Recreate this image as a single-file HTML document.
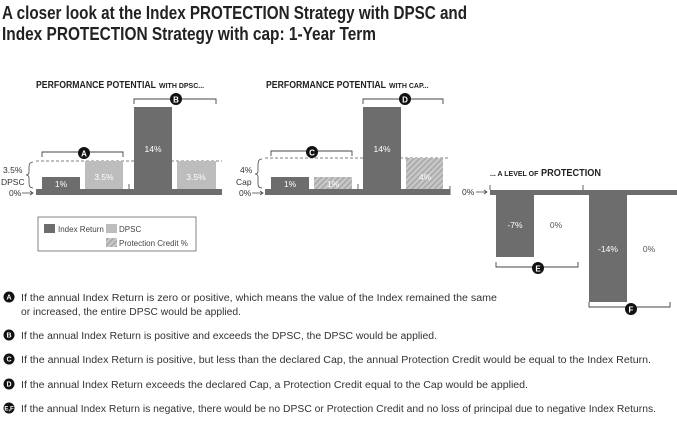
<!DOCTYPE html>
<html><head><meta charset="utf-8"><style>
html,body{margin:0;padding:0;background:#fff;}
svg{display:block;font-family:"Liberation Sans",sans-serif;}
</style></head><body>
<svg width="677" height="421" viewBox="0 0 677 421" xmlns="http://www.w3.org/2000/svg">
<defs>
<pattern id="h" width="4" height="4" patternUnits="userSpaceOnUse" patternTransform="rotate(45)">
<rect width="4" height="4" fill="#c8c8c8"/><rect width="1.6" height="4" fill="#a8a8a8"/>
</pattern>
</defs>
<g font-weight="bold" font-size="18" fill="#222">
<text x="2" y="19" textLength="465" lengthAdjust="spacingAndGlyphs">A closer look at the Index PROTECTION Strategy with DPSC and</text>
<text x="2" y="40" textLength="374" lengthAdjust="spacingAndGlyphs">Index PROTECTION Strategy with cap: 1-Year Term</text>
</g>

<!-- Chart 1 -->
<text x="36" y="88" font-size="10" font-weight="bold" fill="#222" textLength="120" lengthAdjust="spacingAndGlyphs">PERFORMANCE POTENTIAL</text>
<text x="159" y="88" font-size="7" font-weight="bold" fill="#222">WITH DPSC...</text>
<line x1="36" y1="161" x2="222" y2="161" stroke="#555" stroke-dasharray="3,2" stroke-width="0.8"/>
<rect x="42" y="177" width="38" height="13" fill="#6d6d6d"/>
<rect x="85" y="161" width="38" height="29" fill="#bdbdbd"/>
<rect x="134" y="107" width="38" height="83" fill="#6d6d6d"/>
<rect x="177" y="161" width="39" height="29" fill="#bdbdbd"/>
<rect x="36" y="189" width="186" height="6" fill="#6d6d6d"/>
<line x1="129" y1="184" x2="129" y2="189" stroke="#666"/>
<g font-size="8.5" fill="#fff" text-anchor="middle">
<text x="61" y="187">1%</text><text x="104" y="180">3.5%</text><text x="153" y="152">14%</text><text x="196" y="180">3.5%</text>
</g>
<path d="M42 157V152H123V157M134 104V99H216V104" fill="none" stroke="#444" stroke-width="0.9"/>
<circle cx="84" cy="153" r="6" fill="#111"/><text x="84" y="156.5" font-size="8" font-weight="bold" fill="#fff" text-anchor="middle">A</text>
<circle cx="176" cy="99" r="6" fill="#111"/><text x="176" y="102.5" font-size="8" font-weight="bold" fill="#fff" text-anchor="middle">B</text>
<g font-size="8.5" fill="#333">
<text x="3" y="173">3.5%</text><text x="1" y="185">DPSC</text><text x="9" y="196">0%</text>
</g>
<path d="M33 162Q29 162 29 167V172Q29 175 26 175Q29 175 29 178V183Q29 188 33 188" fill="none" stroke="#444" stroke-width="0.8"/>
<path d="M22 193H33M30 191L33 193L30 195" fill="none" stroke="#444" stroke-width="0.8"/>
<rect x="38" y="217" width="158" height="34" fill="none" stroke="#666" stroke-width="0.8"/>
<rect x="44" y="224" width="11" height="9" fill="#6d6d6d"/>
<rect x="106" y="224" width="11" height="9" fill="#bdbdbd"/>
<rect x="106" y="238" width="11" height="9" fill="url(#h)"/>
<g font-size="8" fill="#444">
<text x="58" y="232">Index Return</text><text x="119" y="232">DPSC</text><text x="119" y="246">Protection Credit %</text>
</g>

<!-- Chart 2 -->
<text x="266" y="88" font-size="10" font-weight="bold" fill="#222" textLength="120" lengthAdjust="spacingAndGlyphs">PERFORMANCE POTENTIAL</text>
<text x="389" y="88" font-size="7" font-weight="bold" fill="#222">WITH CAP...</text>
<line x1="265" y1="158" x2="450" y2="158" stroke="#555" stroke-dasharray="3,2" stroke-width="0.8"/>
<rect x="271" y="177" width="38" height="13" fill="#6d6d6d"/>
<rect x="314" y="177" width="38" height="13" fill="url(#h)"/>
<rect x="363" y="107" width="38" height="83" fill="#6d6d6d"/>
<rect x="406" y="158" width="37" height="32" fill="url(#h)"/>
<rect x="265" y="189" width="185" height="6" fill="#6d6d6d"/>
<line x1="358" y1="184" x2="358" y2="189" stroke="#666"/>
<g font-size="8.5" fill="#fff" text-anchor="middle">
<text x="290" y="187">1%</text><text x="333" y="187">1%</text><text x="382" y="152">14%</text><text x="425" y="180">4%</text>
</g>
<path d="M271 156V151H352V156M363 104V99H443V104" fill="none" stroke="#444" stroke-width="0.9"/>
<circle cx="312" cy="152" r="6" fill="#111"/><text x="312" y="155.5" font-size="8" font-weight="bold" fill="#fff" text-anchor="middle">C</text>
<circle cx="405" cy="99" r="6" fill="#111"/><text x="405" y="102.5" font-size="8" font-weight="bold" fill="#fff" text-anchor="middle">D</text>
<g font-size="8.5" fill="#333">
<text x="240" y="173">4%</text><text x="236" y="185">Cap</text><text x="239" y="196">0%</text>
</g>
<path d="M262 159Q258 159 258 164V171Q258 174 255 174Q258 174 258 177V184Q258 188 262 188" fill="none" stroke="#444" stroke-width="0.8"/>
<path d="M252 193H263M260 191L263 193L260 195" fill="none" stroke="#444" stroke-width="0.8"/>

<!-- Chart 3 -->
<text x="490" y="176" font-size="7" font-weight="bold" fill="#222">... A LEVEL OF</text>
<text x="541" y="176" font-size="10" font-weight="bold" fill="#222" textLength="60" lengthAdjust="spacingAndGlyphs">PROTECTION</text>
<rect x="490" y="190" width="187" height="5" fill="#6d6d6d"/>
<line x1="490" y1="185" x2="490" y2="190" stroke="#666"/>
<line x1="583" y1="185" x2="583" y2="190" stroke="#666"/>
<rect x="496" y="194" width="38" height="63" fill="#6d6d6d"/>
<rect x="589" y="194" width="38" height="108" fill="#6d6d6d"/>
<g font-size="8.5" text-anchor="middle">
<text x="515" y="228" fill="#fff">-7%</text><text x="556" y="228" fill="#555">0%</text>
<text x="608" y="252" fill="#fff">-14%</text><text x="649" y="252" fill="#555">0%</text>
</g>
<path d="M496 262V267H578V262M589 302V307H670V302" fill="none" stroke="#444" stroke-width="0.9"/>
<circle cx="538" cy="268" r="6" fill="#111"/><text x="538" y="271.5" font-size="8" font-weight="bold" fill="#fff" text-anchor="middle">E</text>
<circle cx="631" cy="309" r="6" fill="#111"/><text x="631" y="312.5" font-size="8" font-weight="bold" fill="#fff" text-anchor="middle">F</text>
<text x="462" y="195" font-size="8.5" fill="#333">0%</text>
<path d="M476 192H487M484 190L487 192L484 194" fill="none" stroke="#444" stroke-width="0.8"/>
<line x1="450" y1="186" x2="450" y2="195" stroke="#666"/>

<!-- footnotes -->
<g font-size="10" fill="#333">
<text x="21" y="301" textLength="476" lengthAdjust="spacingAndGlyphs">If the annual Index Return is zero or positive, which means the value of the Index remained the same</text>
<text x="21" y="315" textLength="220" lengthAdjust="spacingAndGlyphs">or increased, the entire DPSC would be applied.</text>
<text x="21" y="339" textLength="416" lengthAdjust="spacingAndGlyphs">If the annual Index Return is positive and exceeds the DPSC, the DPSC would be applied.</text>
<text x="21" y="363" textLength="630" lengthAdjust="spacingAndGlyphs">If the annual Index Return is positive, but less than the declared Cap, the annual Protection Credit would be equal to the Index Return.</text>
<text x="21" y="388" textLength="507" lengthAdjust="spacingAndGlyphs">If the annual Index Return exceeds the declared Cap, a Protection Credit equal to the Cap would be applied.</text>
<text x="21" y="412" textLength="635" lengthAdjust="spacingAndGlyphs">If the annual Index Return is negative, there would be no DPSC or Protection Credit and no loss of principal due to negative Index Returns.</text>
</g>
<g font-size="7" font-weight="bold" fill="#fff" text-anchor="middle">
<circle cx="9" cy="297" r="5.5" fill="#111"/><text x="9" y="299.5">A</text>
<circle cx="9" cy="335" r="5.5" fill="#111"/><text x="9" y="337.5">B</text>
<circle cx="9" cy="359" r="5.5" fill="#111"/><text x="9" y="361.5">C</text>
<circle cx="9" cy="384" r="5.5" fill="#111"/><text x="9" y="386.5">D</text>
<circle cx="9" cy="408" r="5.5" fill="#111"/><text x="9" y="410.5" font-size="6">E,F</text>
</g>
</svg>
</body></html>
